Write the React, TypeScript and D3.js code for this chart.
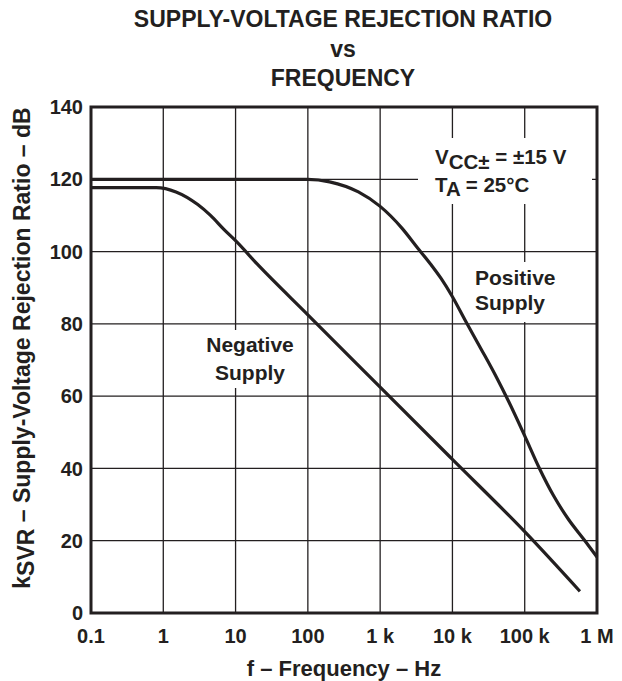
import React from 'react';
import * as d3 from 'd3';

// tick values and labels
const freqTicks = [0.1, 1, 10, 100, 1e3, 1e4, 1e5, 1e6];
const freqLabels = ['0.1', '1', '10', '100', '1 k', '10 k', '100 k', '1 M'];
const dbTicks = [0, 20, 40, 60, 80, 100, 120, 140];

// curves: [frequency Hz, kSVR dB]
const positiveSupply: [number, number][] = [
  [0.1, 120], [100, 120], [200, 119.3], [500, 116.5], [1000, 112.5],
  [2000, 106.5], [3300, 101], [5000, 96.5], [7000, 92.5], [10000, 87.5],
  [15000, 81], [25000, 73], [40000, 65.5], [60000, 58.5], [100000, 49],
  [160000, 40], [250000, 32.5], [400000, 26], [680000, 20], [1000000, 15.5],
];
const negativeSupply: [number, number][] = [
  [0.1, 117.7], [0.8, 117.7], [1.5, 116.5], [3, 113], [4.5, 110],
  [7, 106], [10, 103], [20, 96.5], [100, 82.5], [1000, 62.5],
  [10000, 42.5], [100000, 22.5], [580000, 6],
];

const W = 622;
const H = 681;
const margin = { top: 107, right: 25, bottom: 68, left: 91 };
const FONT = '"Liberation Sans", Arial, Helvetica, sans-serif';
const INK = '#231f20';

export default function App() {
  const x = d3
    .scaleLog()
    .domain([0.1, 1e6])
    .range([margin.left, W - margin.right]);
  const y = d3
    .scaleLinear()
    .domain([0, 140])
    .range([H - margin.bottom, margin.top]);

  const line = d3
    .line<[number, number]>()
    .x((d) => x(d[0]))
    .y((d) => y(d[1]))
    .curve(d3.curveMonotoneX);

  const x0 = x.range()[0];
  const x1 = x.range()[1];
  const y0 = y.range()[0];
  const y1 = y.range()[1];
  const cx = (x0 + x1) / 2;

  return (
    <svg
      width={W}
      height={H}
      style={{ position: 'absolute', left: 0, top: 0, background: '#fff' }}
      fontFamily={FONT}
      fontWeight="bold"
      fill={INK}
    >
      {/* title */}
      <g textAnchor="middle" fontSize={23}>
        <text x={cx - 1} y={27}>SUPPLY-VOLTAGE REJECTION RATIO</text>
        <text x={cx - 1} y={57}>vs</text>
        <text x={cx - 1} y={86}>FREQUENCY</text>
      </g>

      {/* grid */}
      <g stroke={INK} strokeWidth={1.3}>
        {freqTicks.slice(1, -1).map((f) => (
          <line key={'v' + f} x1={x(f)} x2={x(f)} y1={y1} y2={y0} />
        ))}
        {dbTicks.slice(1, -1).map((v) => (
          <line key={'h' + v} x1={x0} x2={x1} y1={y(v)} y2={y(v)} />
        ))}
      </g>

      {/* white boxes behind the notes break the grid lines */}
      <g fill="#fff">
        <rect x={418} y={138} width={174} height={66} />
        <rect x={468} y={262} width={96} height={60} />
        <rect x={204} y={330} width={94} height={58} />
      </g>

      {/* curves */}
      <g fill="none" stroke={INK} strokeWidth={3.2} strokeLinejoin="round">
        <path d={line(positiveSupply) ?? ''} />
        <path d={line(negativeSupply) ?? ''} />
      </g>

      {/* frame */}
      <rect
        x={x0}
        y={y1}
        width={x1 - x0}
        height={y0 - y1}
        fill="none"
        stroke={INK}
        strokeWidth={3}
      />

      {/* y ticks */}
      <g fontSize={20} textAnchor="end">
        {dbTicks.map((v) => (
          <text key={v} x={x0 - 8} y={y(v)} dy="0.36em">
            {v}
          </text>
        ))}
      </g>

      {/* x ticks */}
      <g fontSize={20} textAnchor="middle">
        {freqTicks.map((f, i) => (
          <text key={f} x={x(f)} y={643}>
            {freqLabels[i]}
          </text>
        ))}
      </g>

      {/* axis titles */}
      <text x={cx} y={676} fontSize={22} textAnchor="middle">
        f – Frequency – Hz
      </text>
      <text
        transform={`translate(30, 348) rotate(-90)`}
        fontSize={23}
        textAnchor="middle"
      >
        k<tspan dy={4}>SVR</tspan>
        <tspan dy={-4}> – Supply-Voltage Rejection Ratio – dB</tspan>
      </text>

      {/* notes */}
      <g fontSize={20.5}>
        <text x={435} y={164}>
          V<tspan dy={5}>CC±</tspan>
          <tspan dy={-5}> = ±15 V</tspan>
        </text>
        <text x={435} y={191.5}>
          T<tspan dy={4}>A</tspan>
          <tspan dy={-4}> = 25°C</tspan>
        </text>
      </g>
      <g fontSize={21}>
        <text x={475} y={285}>Positive</text>
        <text x={475} y={310}>Supply</text>
      </g>
      <g fontSize={21} textAnchor="middle">
        <text x={250} y={352}>Negative</text>
        <text x={250} y={380}>Supply</text>
      </g>
    </svg>
  );
}
